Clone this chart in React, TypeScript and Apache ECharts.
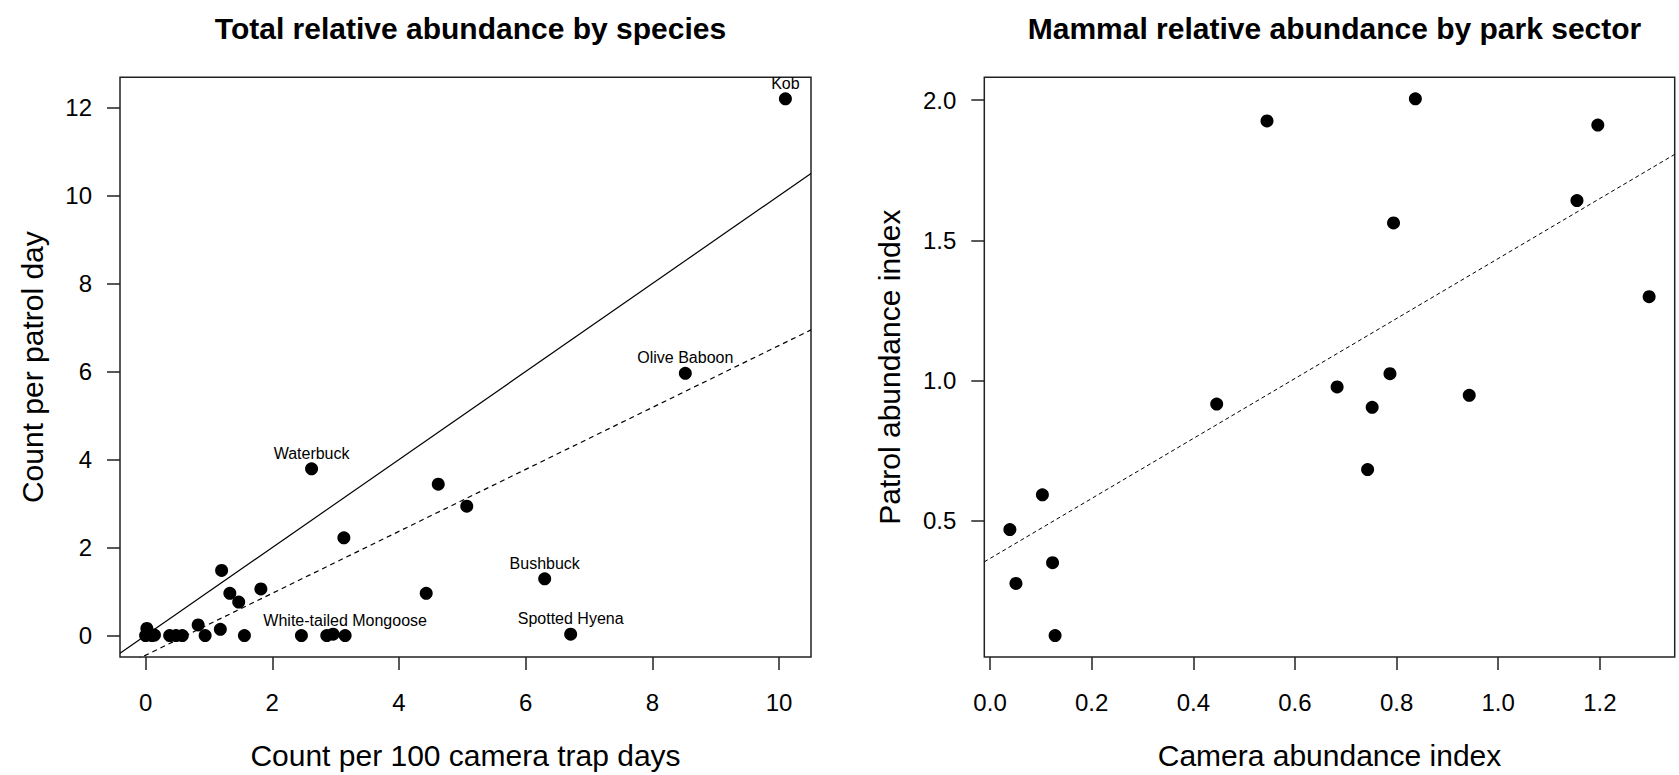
import React, { useEffect, useRef } from "react";
import * as echarts from "echarts";

// ---- Left panel: species ----
const speciesLabels = [
  "", "", "", "", "", "", "", "", "", "", "", "", "", "", "", "", "",
  "Waterbuck", "", "", "", "White-tailed Mongoose", "", "", "",
  "Bushbuck", "Spotted Hyena", "Olive Baboon", "Kob",
];
const cameraPer100 = [
  0, 0.02, 0.05, 0.1, 0.14, 0.38, 0.48, 0.58, 0.83, 0.94, 1.18, 1.2, 1.33, 1.47, 1.56, 1.82, 2.46,
  2.62, 2.86, 2.96, 3.13, 3.15, 4.43, 4.62, 5.07,
  6.3, 6.71, 8.52, 10.1,
];
const patrolPerDay = [
  0, 0.16, 0.03, 0, 0.01, 0, 0, 0, 0.24, 0, 0.14, 1.48, 0.96, 0.76, 0, 1.06, 0,
  3.79, 0, 0.03, 2.22, 0, 0.96, 3.44, 2.94,
  1.29, 0.03, 5.96, 12.2,
];
const leftXTicks = [0, 2, 4, 6, 8, 10];
const leftYTicks = [0, 2, 4, 6, 8, 10, 12];
const oneToOneLine = { intercept: 0, slope: 1 };
const speciesFitLine = { intercept: -0.448, slope: 0.704 };

// ---- Right panel: park sectors ----
const sectorCamera = [
  0.039, 0.051, 0.103, 0.123, 0.128, 0.446, 0.545, 0.683, 0.743, 0.752, 0.787, 0.794, 0.837,
  0.943, 1.155, 1.196, 1.297,
];
const sectorPatrol = [
  0.468, 0.276, 0.592, 0.35, 0.09, 0.916, 1.926, 0.977, 0.682, 0.904, 1.024, 1.562, 2.005,
  0.947, 1.642, 1.911, 1.299,
];
const rightXTicks = [0, 0.2, 0.4, 0.6, 0.8, 1.0, 1.2];
const rightYTicks = [0.5, 1.0, 1.5, 2.0];
const sectorFitLine = { intercept: 0.365, slope: 1.07 };

const FONT = "'Liberation Sans', Arial, sans-serif";

// R-style axis range: data range extended by 4% each side
function rRange(v: number[]): [number, number] {
  const lo = Math.min(...v);
  const hi = Math.max(...v);
  const e = (hi - lo) * 0.04;
  return [lo - e, hi + e];
}

function lineData(fit: { intercept: number; slope: number }, xr: [number, number]) {
  return [
    [xr[0], fit.intercept + fit.slope * xr[0]],
    [xr[1], fit.intercept + fit.slope * xr[1]],
  ];
}

function makeXAxis(gridIndex: number, range: [number, number], ticks: number[], name: string, fmt: (v: number) => string) {
  return {
    gridIndex,
    type: "value",
    min: range[0],
    max: range[1],
    splitLine: { show: false },
    axisLine: { show: false, onZero: false },
    axisTick: { show: true, length: 13, customValues: ticks, lineStyle: { color: "#222", width: 1.5 } },
    axisLabel: { customValues: ticks, fontSize: 24, color: "#000", margin: 33, fontFamily: FONT, formatter: fmt },
    name,
    nameLocation: "middle",
    nameGap: 83,
    nameTextStyle: { fontSize: 30, color: "#000", fontFamily: FONT },
  };
}

function makeYAxis(gridIndex: number, range: [number, number], ticks: number[], name: string, fmt: (v: number) => string, nameGap: number) {
  return {
    gridIndex,
    type: "value",
    min: range[0],
    max: range[1],
    splitLine: { show: false },
    axisLine: { show: false, onZero: false },
    axisTick: { show: true, length: 13, customValues: ticks, lineStyle: { color: "#222", width: 1.5 } },
    axisLabel: { customValues: ticks, fontSize: 24, color: "#000", margin: 28, fontFamily: FONT, formatter: fmt },
    name,
    nameLocation: "middle",
    nameRotate: 90,
    nameGap,
    nameTextStyle: { fontSize: 30, color: "#000", fontFamily: FONT },
  };
}

export default function App() {
  const ref = useRef<HTMLDivElement>(null);

  useEffect(() => {
    if (!ref.current) return;
    const chart = echarts.init(ref.current, null, { renderer: "svg" });

    const lx = rRange(cameraPer100);
    const ly = rRange(patrolPerDay);
    const rx = rRange(sectorCamera);
    const ry = rRange(sectorPatrol);

    const speciesPoints = cameraPer100.map((x, i) => ({
      name: speciesLabels[i],
      value: [x, patrolPerDay[i]],
      label: { show: speciesLabels[i] !== "" },
    }));
    const sectorPoints = sectorCamera.map((x, i) => [x, sectorPatrol[i]]);

    const option = {
      animation: false,
      backgroundColor: "#ffffff",
      textStyle: { fontFamily: FONT },
      title: [
        {
          text: "Total relative abundance by species",
          left: 465.5,
          top: 8,
          textAlign: "center",
          textStyle: { fontSize: 30, fontWeight: "bold", color: "#000", fontFamily: FONT },
        },
        {
          text: "Mammal relative abundance by park sector",
          left: 1329.5,
          top: 8,
          textAlign: "center",
          textStyle: { fontSize: 30, fontWeight: "bold", color: "#000", fontFamily: FONT },
        },
      ],
      grid: [
        { left: 120, top: 77.3, right: 868, bottom: 117.3, show: true, borderColor: "#222", borderWidth: 1.5, backgroundColor: "transparent" },
        { left: 984.3, top: 77.3, right: 4.3, bottom: 117.3, show: true, borderColor: "#222", borderWidth: 1.5, backgroundColor: "transparent" },
      ],
      xAxis: [
        makeXAxis(0, lx, leftXTicks, "Count per 100 camera trap days", (v: number) => String(v)),
        makeXAxis(1, rx, rightXTicks, "Camera abundance index", (v: number) => v.toFixed(1)),
      ],
      yAxis: [
        makeYAxis(0, ly, leftYTicks, "Count per patrol day", (v: number) => String(v), 73),
        makeYAxis(1, ry, rightYTicks, "Patrol abundance index", (v: number) => v.toFixed(1), 80),
      ],
      series: [
        {
          type: "line",
          xAxisIndex: 0,
          yAxisIndex: 0,
          data: lineData(oneToOneLine, lx),
          symbol: "none",
          silent: true,
          lineStyle: { color: "#000", width: 1.2, type: "solid" },
          z: 1,
        },
        {
          type: "line",
          xAxisIndex: 0,
          yAxisIndex: 0,
          data: lineData(speciesFitLine, lx),
          symbol: "none",
          silent: true,
          lineStyle: { color: "#000", width: 1.2, type: [5, 4] },
          z: 1,
        },
        {
          type: "scatter",
          xAxisIndex: 0,
          yAxisIndex: 0,
          data: speciesPoints,
          symbol: "circle",
          symbolSize: 13,
          itemStyle: { color: "#000", opacity: 1 },
          label: {
            position: "top",
            distance: 1,
            fontSize: 16,
            color: "#000",
            fontFamily: FONT,
            formatter: (p: any) => p.name,
          },
          z: 3,
        },
        {
          type: "line",
          xAxisIndex: 1,
          yAxisIndex: 1,
          data: lineData(sectorFitLine, rx),
          symbol: "none",
          silent: true,
          lineStyle: { color: "#000", width: 1, type: [4, 3] },
          z: 1,
        },
        {
          type: "scatter",
          xAxisIndex: 1,
          yAxisIndex: 1,
          data: sectorPoints,
          symbol: "circle",
          symbolSize: 13,
          itemStyle: { color: "#000", opacity: 1 },
          z: 3,
        },
      ],
    };

    chart.setOption(option as any);
    return () => {
      chart.dispose();
    };
  }, []);

  return (
    <div
      ref={ref}
      style={{ position: "fixed", left: 0, top: 0, width: 1679, height: 775, background: "#fff" }}
    />
  );
}
